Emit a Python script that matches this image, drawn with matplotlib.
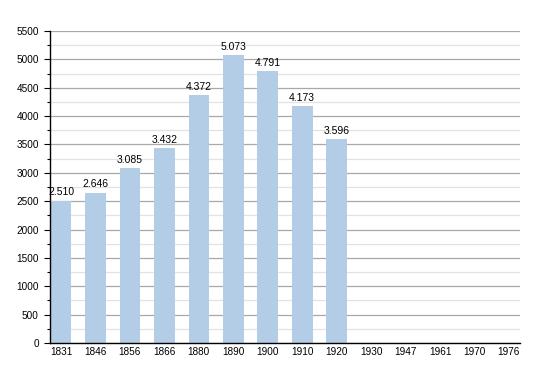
import matplotlib
matplotlib.use("Agg")
import matplotlib.pyplot as plt
from matplotlib.ticker import MultipleLocator

plt.rcParams['font.family'] = ['Liberation Sans', 'DejaVu Sans']

# census years and population
years = ["1831", "1846", "1856", "1866", "1880", "1890", "1900", "1910", "1920",
         "1930", "1947", "1961", "1970", "1976"]
population = [2510, 2646, 3085, 3432, 4372, 5073, 4791, 4173, 3596,
              None, None, None, None, None]
bar_labels = ["2.510", "2.646", "3.085", "3.432", "4.372", "5.073", "4.791",
              "4.173", "3.596"]


def main():
    fig = plt.figure(figsize=(5.5, 3.73), dpi=100)
    ax = fig.add_axes([0.0909, 0.0804, 0.8545, 0.8365])

    # grid first, bars on top
    ax.set_axisbelow(True)
    ax.yaxis.set_major_locator(MultipleLocator(500))
    ax.yaxis.set_minor_locator(MultipleLocator(250))
    ax.grid(axis="y", which="major", color="#a8a8a8", linewidth=0.9)
    ax.grid(axis="y", which="minor", color="#e2e2e2", linewidth=0.9)

    xs = list(range(len(years)))
    vals = [v if v is not None else 0 for v in population]
    bars = ax.bar(xs, vals, width=0.6, color="#b3cde6")
    for b, txt in zip(bars, bar_labels):
        ax.text(b.get_x() + b.get_width() / 2, b.get_height() + 60, txt,
                ha="center", va="bottom", fontsize=7.5)

    ax.set_xlim(-0.32, len(years) - 1 + 0.32)
    ax.set_ylim(0, 5500)
    ax.set_xticks(xs)
    ax.set_xticklabels(years, fontsize=7.2)
    ax.tick_params(axis="y", labelsize=7.2, length=4.5, width=0.8)
    ax.tick_params(axis="y", which="minor", length=2, width=0.8)
    ax.tick_params(axis="x", length=0, pad=3)

    for s in ("top", "right"):
        ax.spines[s].set_visible(False)
    ax.spines["left"].set_linewidth(1.0)
    ax.spines["bottom"].set_linewidth(1.0)

    fig.savefig("out.png", dpi=100)


if __name__ == "__main__":
    main()
